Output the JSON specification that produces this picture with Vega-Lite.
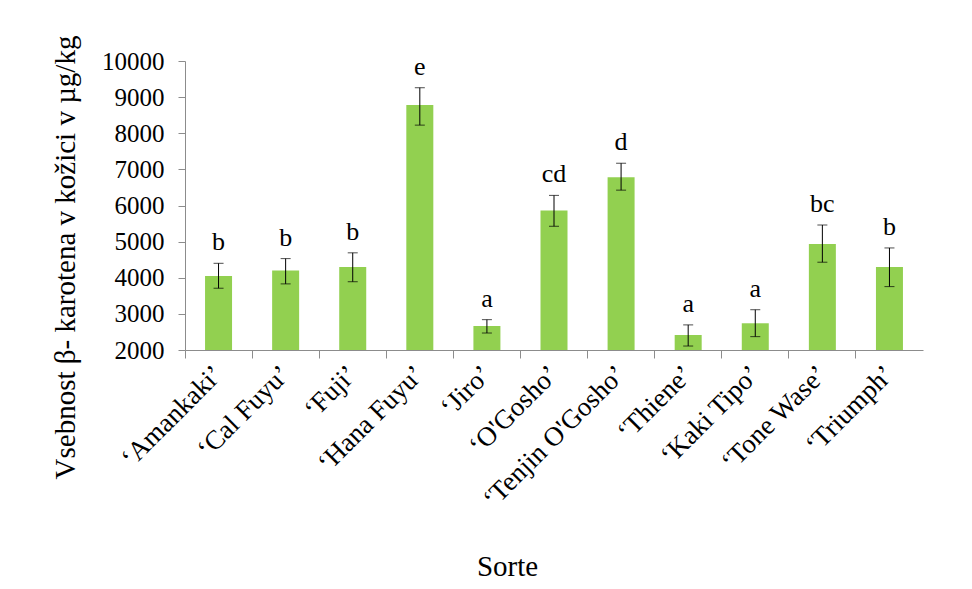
{
  "$schema": "https://vega.github.io/schema/vega-lite/v6.json",
  "width": 738,
  "height": 289,
  "autosize": "none",
  "padding": {"left": 185, "top": 61, "right": 49, "bottom": 239},
  "background": "white",
  "config": {
    "view": {"stroke": null},
    "font": "Liberation Serif",
    "axis": {"grid": false, "domainColor": "#8c8c8c", "tickColor": "#8c8c8c", "labelColor": "black", "titleColor": "black", "labelFont": "Liberation Serif", "titleFont": "Liberation Serif", "titleFontWeight": "normal"}
  },
  "data": {
    "values": [
      {"sorte": "‘Amankaki’", "value": 4050, "lo": 3710, "hi": 4400, "grp": "b"},
      {"sorte": "‘Cal Fuyu’", "value": 4200, "lo": 3830, "hi": 4530, "grp": "b"},
      {"sorte": "‘Fuji’", "value": 4300, "lo": 3890, "hi": 4690, "grp": "b"},
      {"sorte": "‘Hana Fuyu’", "value": 8780, "lo": 8225, "hi": 9260, "grp": "e"},
      {"sorte": "‘Jiro’", "value": 2665, "lo": 2470, "hi": 2840, "grp": "a"},
      {"sorte": "‘O'Gosho’", "value": 5860, "lo": 5425, "hi": 6280, "grp": "cd"},
      {"sorte": "‘Tenjin O'Gosho’", "value": 6785, "lo": 6425, "hi": 7170, "grp": "d"},
      {"sorte": "‘Thiene’", "value": 2415, "lo": 2110, "hi": 2695, "grp": "a"},
      {"sorte": "‘Kaki Tipo’", "value": 2740, "lo": 2370, "hi": 3115, "grp": "a"},
      {"sorte": "‘Tone Wase’", "value": 4935, "lo": 4430, "hi": 5460, "grp": "bc"},
      {"sorte": "‘Triumph’", "value": 4300, "lo": 3755, "hi": 4825, "grp": "b"}
    ]
  },
  "layer": [
    {
      "mark": {"type": "bar", "color": "#92D050", "size": 27},
      "encoding": {
        "x": {"field": "sorte", "type": "nominal", "sort": null, "scale": {"paddingInner": 0, "paddingOuter": 0},
          "axis": {"orient": "bottom", "domain": false, "ticks": false, "labelAngle": -45, "labelAlign": "right", "labelBaseline": "middle", "labelPadding": 20, "labelFontSize": 27, "labelLimit": 0, "title": "Sorte", "titleFontSize": 29, "titleX": 322, "titleY": 225, "titleBaseline": "alphabetic", "titleAnchor": null}},
        "y": {"field": "value", "type": "quantitative", "scale": {"domain": [2000, 10000], "nice": false, "zero": false},
          "axis": {"values": [2000, 3000, 4000, 5000, 6000, 7000, 8000, 9000, 10000], "format": "d", "tickSize": 7, "labelPadding": 14, "labelFontSize": 25, "title": "Vsebnost β- karotena v kožici v µg/kg", "titleFontSize": 29, "titleAngle": 270, "titleX": -120, "titleY": 196, "titleAlign": "center", "titleBaseline": "middle"}},
        "y2": {"datum": 2000}
      }
    },
    {
      "mark": {"type": "errorbar", "color": "black", "ticks": {"size": 10, "color": "black"}},
      "encoding": {
        "x": {"field": "sorte", "type": "nominal", "sort": null,
          "axis": {"orient": "bottom", "domain": true, "ticks": true, "tickSize": 8, "bandPosition": 0, "labels": false, "title": null}},
        "y": {"field": "lo", "type": "quantitative", "axis": null},
        "y2": {"field": "hi"}
      }
    },
    {
      "mark": {"type": "text", "fontSize": 26, "baseline": "alphabetic", "dy": -13, "color": "black"},
      "encoding": {
        "x": {"field": "sorte", "type": "nominal", "sort": null, "axis": null},
        "y": {"field": "hi", "type": "quantitative", "axis": null},
        "text": {"field": "grp"}
      }
    }
  ],
  "resolve": {"axis": {"x": "independent", "y": "independent"}}
}
